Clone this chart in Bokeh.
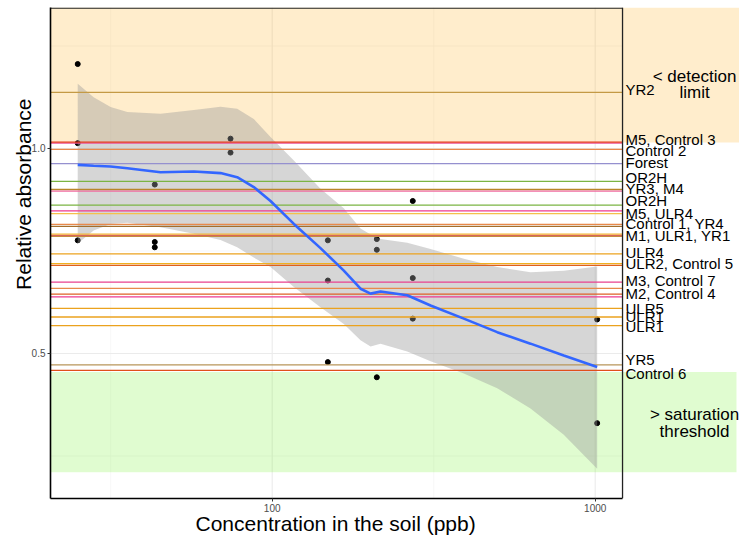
import math
from bokeh.plotting import figure
from bokeh.models import Range1d, FixedTicker, NumeralTickFormatter, PrintfTickFormatter, Title, ColumnDataSource
from bokeh.core.properties import value
from bokeh.embed import file_html
from bokeh.resources import INLINE

# ---------------- data ----------------
conc = [25, 25, 25, 43.3, 43.3, 43.3, 74.3, 74.3, 148.7, 148.7, 148.7,
        210.8, 210.8, 210.8, 272.4, 272.4, 272.4, 1014, 1014]
absorb = [1.206, 1.013, 0.776, 0.912, 0.772, 0.759, 1.024, 0.990, 0.776, 0.678, 0.479,
          0.779, 0.753, 0.442, 0.872, 0.684, 0.585, 0.583, 0.330]

smooth_x = [25, 28.0, 31.6, 35.6, 45.1, 57.2, 69.2, 77.9, 87.7, 98.8, 116.7, 141.1,
            166.6, 187.7, 201.6, 216.4, 261.8, 309.2, 392, 497.3, 630.5, 799.2, 1014]
smooth_fit = [0.960, 0.958, 0.956, 0.952, 0.942, 0.944, 0.940, 0.930, 0.906, 0.872, 0.816, 0.757,
              0.702, 0.658, 0.646, 0.651, 0.642, 0.617, 0.585, 0.552, 0.524, 0.495, 0.467]
smooth_upper = [1.158, 1.125, 1.101, 1.089, 1.085, 1.094, 1.102, 1.097, 1.072, 1.028, 0.971, 0.902,
                0.854, 0.805, 0.790, 0.779, 0.770, 0.755, 0.731, 0.711, 0.698, 0.702, 0.712]
smooth_lower = [0.768, 0.800, 0.816, 0.819, 0.808, 0.792, 0.777, 0.759, 0.734, 0.711, 0.662, 0.613,
                0.572, 0.532, 0.517, 0.524, 0.505, 0.481, 0.451, 0.415, 0.366, 0.302, 0.219]

ref_names = ["YR2", "M5", "Control 3", "Control 2", "Forest", "OR2H", "YR3", "M4", "OR2H",
             "M5", "ULR4", "Control 1", "YR4", "M1", "ULR1", "YR1", "ULR4", "ULR2", "Control 5",
             "M3", "Control 7", "Control 4", "M2", "ULR5", "ULR1", "ULR1", "YR5", "Control 6"]
ref_values = [1.137, 1.013, 1.0154, 0.998, 0.963, 0.920, 0.900, 0.896, 0.862,
              0.848, 0.841, 0.815, 0.810, 0.788, 0.791, 0.786, 0.743, 0.719, 0.715,
              0.674, 0.659, 0.645, 0.638, 0.610, 0.589, 0.568, 0.472, 0.459]
ref_colors = ["#C49A45", "#E8559A", "#E63B1E", "#E8894A", "#9590CF", "#7BB443", "#B8862A", "#F06BA0", "#7BB443",
              "#EE3A8F", "#F5C04A", "#E8894A", "#A46E2C", "#E8407A", "#F2B533", "#C58A3E", "#EBA21E", "#F0B020", "#E0601E",
              "#E8408F", "#E8894A", "#DE5F26", "#EC3A92", "#EBA21E", "#EBA21E", "#EBA21E", "#B8965A", "#E0501A"]

label_texts = ["YR2", "M5, Control 3", "Control 2", "Forest", "OR2H", "YR3, M4", "OR2H", "M5, ULR4",
               "Control 1, YR4", "M1, ULR1, YR1", "ULR4", "ULR2, Control 5", "M3, Control 7",
               "M2, Control 4", "ULR5", "ULR1", "ULR1", "YR5", "Control 6"]
label_pos = [1.143, 1.023, 0.995, 0.967, 0.930, 0.902, 0.873, 0.841, 0.816, 0.788, 0.747, 0.719,
             0.677, 0.647, 0.609, 0.589, 0.566, 0.486, 0.450]

detection_limit = 1.0146
saturation_top = 0.4549
saturation_bottom = 0.2105

y_major = [0.5, 1.0]
y_minor = [0.25, 0.75, 1.25]
x_major = [100, 1000]
x_minor = [31.62, 316.2]

# ---------------- layout constants ----------------
X_LO, X_PANEL, X_END = 20.59, 1215, 2797
Y_LO, Y_HI = 0.1463, 1.3439
FONT = "Liberation Sans"

p = figure(width=739, height=535, x_axis_type="log", output_backend="svg", toolbar_location=None,
           x_range=Range1d(X_LO, X_END), y_range=Range1d(Y_LO, Y_HI))
p.min_border = 0
p.min_border_left = 50
p.min_border_bottom = 37
p.min_border_top = 7
p.min_border_right = 0
p.outline_line_color = None
p.background_fill_color = "white"
p.border_fill_color = "white"
p.xgrid.visible = False
p.ygrid.visible = False

# grid (panel only)
p.segment(x0=X_LO, x1=X_PANEL, y0=y_minor, y1=y_minor, line_color="#F2F2F2", line_width=0.6)
p.segment(x0=x_minor, x1=x_minor, y0=Y_LO, y1=Y_HI, line_color="#F2F2F2", line_width=0.6)
p.segment(x0=X_LO, x1=X_PANEL, y0=y_major, y1=y_major, line_color="#EBEBEB", line_width=1.1)
p.segment(x0=x_major, x1=x_major, y0=Y_LO, y1=Y_HI, line_color="#EBEBEB", line_width=1.1)

# shaded regions
p.quad(left=X_LO, right=X_END, bottom=detection_limit, top=Y_HI,
       fill_color="orange", fill_alpha=0.2, line_color=None)
p.quad(left=X_LO, right=2738, bottom=saturation_bottom, top=saturation_top,
       fill_color="#64F014", fill_alpha=0.2, line_color=None)

# points
p.scatter(conc, absorb, size=5, color="black")

# smoother confidence band
p.varea(x=smooth_x, y1=smooth_lower, y2=smooth_upper, fill_color="#999999", fill_alpha=0.4)

# reference lines
src = ColumnDataSource(dict(y=ref_values, c=ref_colors, n=ref_names))
p.segment(x0=X_LO, x1=X_PANEL, y0="y", y1="y", line_color="c", line_width=1.3, source=src)

# smoother line
p.line(smooth_x, smooth_fit, line_color="#3366FF", line_width=2.6)

# labels of reference lines
p.text(x=[1241] * len(label_texts), y=label_pos, text=label_texts, text_font=value(FONT),
       text_font_size=value("15px"), text_align="left", text_baseline="middle", text_color="black")

# region labels
p.text(x=[2030, 2030], y=[1.1756, 1.1366], text=["< detection", "limit"], text_font=value(FONT),
       text_font_size=value("17px"), text_align="center", text_baseline="middle", text_color="black")
p.text(x=[2030, 2030], y=[0.3512, 0.3098], text=["> saturation", "threshold"], text_font=value(FONT),
       text_font_size=value("17px"), text_align="center", text_baseline="middle", text_color="black")

# panel border (top / right)
p.segment(x0=[X_LO, X_PANEL], x1=[X_PANEL, X_PANEL], y0=[Y_HI - 0.0015, Y_LO], y1=[Y_HI - 0.0015, Y_HI],
          line_color="#222222", line_width=1.3)

# axes
p.xaxis.ticker = FixedTicker(ticks=x_major, minor_ticks=[])
p.xaxis.formatter = PrintfTickFormatter(format="%d")
p.xaxis.bounds = (X_LO, X_PANEL)
p.yaxis.ticker = FixedTicker(ticks=y_major, minor_ticks=[])
p.yaxis.formatter = NumeralTickFormatter(format="0.0")
for ax in (p.xaxis[0], p.yaxis[0]):
    ax.axis_line_color = "black"
    ax.axis_line_width = 1.6
    ax.major_tick_in = 0
    ax.major_tick_out = 3
    ax.major_tick_line_color = "#333333"
    ax.minor_tick_line_color = None
    ax.major_label_text_font = FONT
    ax.major_label_text_font_size = "10px"
    ax.major_label_text_color = "#4D4D4D"
    ax.major_label_standoff = 2

# axis titles
p.add_layout(Title(text="Relative absorbance", align="right", offset=91, standoff=-12,
                   text_font=FONT, text_font_size="21px", text_font_style="normal",
                   text_color="black"), "left")
p.add_layout(Title(text="Concentration in the soil (ppb)", align="left", offset=145, standoff=-10,
                   text_font=FONT, text_font_size="21px", text_font_style="normal",
                   text_color="black"), "below")

open("out.html", "w").write(file_html(p, INLINE))
